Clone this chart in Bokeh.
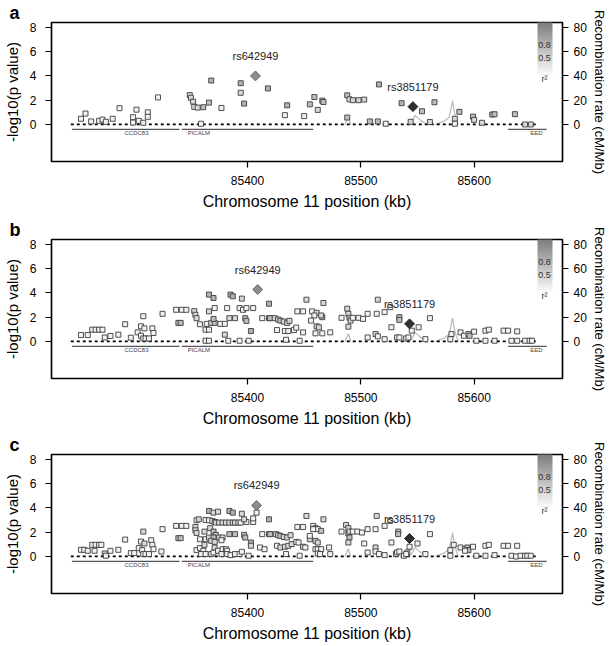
from bokeh.plotting import figure
from bokeh.models import (Range1d, LinearAxis, FixedTicker, Label, ColorBar,
                          LinearColorMapper, ColumnDataSource)
from bokeh.layouts import column
from bokeh.core.properties import value
from bokeh.embed import file_html
from bokeh.resources import INLINE

NAN = float("nan")

# ---------------- data ----------------
x_ticks = [85400, 85500, 85600]
y_ticks = [0, 2, 4, 6, 8]
recomb_ticks = [0, 20, 40, 60, 80]

pos_a = [85253, 85257, 85262, 85269, 85272, 85275, 85281, 85287, 85299, 85299,
         85302, 85304, 85308, 85312, 85312, 85321, 85349, 85350, 85352, 85353,
         85356, 85359, 85361, 85366, 85368, 85377, 85394, 85394, 85397, 85418,
         85433, 85435, 85450, 85455, 85459, 85462, 85466, 85467, 85488, 85490,
         85493, 85498, 85503, 85488, 85516, 85508, 85515, 85522, 85536, 85544,
         85554, 85561, 85565, 85583, 85583, 85587, 85599, 85600, 85607, 85616,
         85618, 85636, 85645, 85650]
logp_a = [0.47, 0.90, 0.25, 0.30, 0.40, 0.22, 0.47, 1.34, 0.60, 0.16,
          1.22, 0.30, 0.14, 1.00, 0.63, 2.23, 2.42, 2.20, 1.88, 1.45,
          1.39, 0.06, 1.42, 1.80, 3.62, 1.36, 3.40, 2.61, 1.72, 2.97,
          0.77, 1.58, 0.69, 1.66, 2.26, 1.20, 1.96, 1.85, 2.40, 2.07,
          2.00, 2.00, 2.05, 0.57, 3.30, 0.25, 0.25, 0.06, 1.75, 0.22,
          1.09, 0.20, 1.83, 0.47, 0.06, 1.04, 0.65, 0.38, 0.14, 0.82,
          0.84, 0.85, 0.00, 0.00]
r2_a = [0.1, 0.1, 0.1, 0.1, 0.1, 0.1, 0.1, 0.1, 0.1, 0.1,
        0.1, 0.1, 0.1, 0.1, 0.1, 0.1, 0.3, 0.3, 0.3, 0.3,
        0.3, 0.1, 0.5, 0.5, 0.6, 0.1, 0.6, 0.3, 0.6, 0.6,
        0.1, 0.6, 0.1, 0.5, 0.5, 0.3, 0.5, 0.5, 0.5, 0.3,
        0.3, 0.3, 0.3, 0.5, 0.6, 0.5, 0.5, 0.1, 0.6, 0.3,
        0.5, 0.3, 0.5, 0.3, 0.1, 0.5, 0.5, 0.3, 0.3, 0.5,
        0.5, 0.5, 0.3, 0.3]

pos_b = [85253, 85259, 85263, 85266, 85269, 85272, 85274, 85279, 85286, 85292,
         85297, 85303, 85306, 85308, 85306, 85308, 85310, 85313, 85309, 85316,
         85317, 85325, 85337, 85342, 85346, 85339, 85341, 85353, 85354, 85355,
         85366, 85370, 85366, 85371, 85364, 85368, 85371, 85370, 85358, 85363,
         85366, 85376, 85380, 85382, 85384, 85389, 85385, 85387, 85395, 85393,
         85396, 85399, 85398, 85399, 85405, 85403, 85419, 85413, 85419, 85420,
         85424, 85427, 85429, 85432, 85435, 85437, 85426, 85433, 85436, 85441,
         85443, 85449, 85444, 85449, 85452, 85363, 85366, 85380, 85383, 85393,
         85401, 85434, 85446, 85457, 85461, 85459, 85466, 85465, 85456, 85467,
         85461, 85463, 85460, 85466, 85473, 85483, 85488, 85489, 85490, 85491,
         85489, 85493, 85498, 85502, 85506, 85514, 85521, 85515, 85526, 85534,
         85534, 85527, 85551, 85561, 85545, 85506, 85513, 85515, 85521, 85532,
         85534, 85540, 85542, 85557, 85580, 85579, 85588, 85591, 85595, 85596,
         85600, 85610, 85613, 85626, 85630, 85638, 85602, 85610, 85618, 85633,
         85638, 85645, 85649, 85651]
logp_b = [0.53, 0.53, 0.97, 0.97, 0.97, 0.97, 0.33, 0.45, 0.56, 1.42,
          0.31, 0.75, 1.25, 2.08, 0.47, 0.25, 0.25, 0.25, 1.08, 1.08,
          0.70, 2.28, 2.61, 2.61, 2.61, 1.53, 1.53, 2.50, 2.20, 1.92,
          3.86, 3.58, 2.48, 2.75, 1.45, 1.53, 1.53, 1.86, 1.42, 0.97,
          0.97, 1.45, 1.45, 2.75, 1.92, 1.92, 3.86, 3.72, 3.53, 2.75,
          2.61, 2.75, 1.92, 1.70, 2.75, 0.86, 3.11, 1.92, 1.92, 1.92,
          1.92, 1.81, 1.72, 1.64, 1.53, 1.70, 0.94, 0.86, 0.86, 0.94,
          1.14, 0.75, 2.48, 2.48, 3.44, 0.06, 0.06, 0.56, 0.06, 0.06,
          0.06, 0.14, 0.06, 2.48, 2.36, 2.14, 2.00, 2.14, 1.72, 3.17,
          1.25, 1.17, 0.67, 0.67, 0.75, 1.95, 2.70, 2.28, 1.95, 1.72,
          1.22, 1.95, 1.95, 1.86, 2.28, 2.28, 2.42, 3.44, 2.83, 2.00,
          1.78, 1.17, 1.17, 1.92, 0.89, 0.33, 0.61, 0.42, 0.19, 0.33,
          0.33, 0.25, 0.33, 0.19, 0.61, 0.19, 0.75, 0.47, 0.61, 0.47,
          0.81, 0.89, 0.97, 0.89, 0.89, 0.83, 0.06, 0.06, 0.06, 0.06,
          0.06, 0.06, 0.06, 0.06]
r2_b = [0.1, 0.1, 0.1, 0.1, 0.1, 0.1, 0.1, 0.1, 0.1, 0.1,
        0.1, 0.1, 0.1, 0.1, 0.1, 0.1, 0.1, 0.1, 0.1, 0.1,
        0.1, 0.1, 0.1, 0.1, 0.1, 0.5, 0.5, 0.3, 0.3, 0.3,
        0.6, 0.6, 0.3, 0.1, 0.1, 0.3, 0.5, 0.5, 0.1, 0.1,
        0.1, 0.1, 0.1, 0.1, 0.3, 0.3, 0.6, 0.6, 0.3, 0.1,
        0.1, 0.1, 0.5, 0.5, 0.1, 0.6, 0.6, 0.1, 0.5, 0.5,
        0.3, 0.3, 0.5, 0.3, 0.3, 0.3, 0.1, 0.1, 0.1, 0.1,
        0.1, 0.1, 0.1, 0.1, 0.3, 0.1, 0.1, 0.3, 0.1, 0.1,
        0.1, 0.1, 0.1, 0.1, 0.3, 0.1, 0.5, 0.3, 0.1, 0.3,
        0.3, 0.3, 0.1, 0.1, 0.1, 0.1, 0.3, 0.3, 0.5, 0.3,
        0.3, 0.1, 0.1, 0.1, 0.1, 0.1, 0.1, 0.3, 0.1, 0.5,
        0.5, 0.1, 0.1, 0.1, 0.1, 0.1, 0.3, 0.1, 0.1, 0.1,
        0.1, 0.1, 0.1, 0.1, 0.1, 0.1, 0.1, 0.1, 0.3, 0.5,
        0.1, 0.1, 0.1, 0.1, 0.1, 0.1, 0.1, 0.1, 0.1, 0.1,
        0.1, 0.1, 0.1, 0.1]

pos_c = [85253, 85256, 85259, 85265, 85263, 85266, 85269, 85271, 85274, 85279,
         85275, 85286, 85292, 85297, 85300, 85304, 85306, 85308, 85307, 85308,
         85310, 85313, 85309, 85315, 85316, 85317, 85325, 85324, 85337, 85342,
         85346, 85339, 85341, 85354, 85354, 85355, 85355, 85357, 85362, 85358,
         85363, 85366, 85355, 85358, 85361, 85362, 85359, 85363, 85368, 85370,
         85371, 85374, 85366, 85370, 85374, 85363, 85366, 85369, 85371, 85372,
         85375, 85378, 85381, 85384, 85387, 85389, 85392, 85367, 85370, 85372,
         85370, 85375, 85378, 85368, 85371, 85377, 85384, 85387, 85384, 85389,
         85395, 85394, 85399, 85397, 85405, 85405, 85397, 85398, 85403, 85403,
         85378, 85381, 85382, 85377, 85382, 85385, 85389, 85393, 85395, 85401,
         85408, 85419, 85413, 85419, 85420, 85425, 85427, 85429, 85432, 85435,
         85438, 85411, 85415, 85426, 85429, 85433, 85436, 85439, 85443, 85445,
         85444, 85449, 85452, 85449, 85434, 85446, 85455, 85458, 85460, 85462,
         85458, 85465, 85467, 85455, 85460, 85462, 85460, 85462, 85465, 85451,
         85472, 85462, 85464, 85473, 85483, 85487, 85489, 85489, 85490, 85490,
         85489, 85493, 85497, 85501, 85506, 85513, 85521, 85514, 85526, 85533,
         85533, 85527, 85503, 85550, 85561, 85543, 85506, 85513, 85513, 85516,
         85521, 85531, 85532, 85534, 85538, 85541, 85540, 85557, 85579, 85579,
         85582, 85588, 85592, 85594, 85595, 85599, 85592, 85610, 85613, 85626,
         85630, 85638, 85602, 85610, 85618, 85633, 85637, 85641, 85645, 85647,
         85650]
logp_c = [0.55, 0.55, 0.47, 0.47, 0.96, 0.96, 0.96, 0.96, 0.25, 0.47,
          0.06, 0.55, 1.39, 0.28, 0.28, 0.69, 1.23, 2.05, 0.52, 0.20,
          0.20, 0.20, 1.07, 1.34, 0.96, 0.60, 2.25, 0.41, 2.52, 2.52,
          2.52, 1.51, 1.51, 2.43, 2.16, 1.94, 2.98, 3.06, 2.05, 1.42,
          1.42, 1.56, 0.52, 0.69, 0.47, 0.96, 0.20, 0.20, 0.20, 0.33,
          0.74, 0.47, 3.75, 3.61, 3.69, 3.01, 2.98, 2.93, 2.84, 2.79,
          2.79, 2.79, 2.79, 2.79, 2.79, 2.79, 2.79, 2.33, 2.05, 1.78,
          1.56, 1.56, 1.56, 1.29, 1.20, 1.34, 3.75, 3.61, 1.84, 1.84,
          3.52, 2.79, 2.84, 3.06, 2.84, 3.14, 1.78, 1.56, 1.15, 0.88,
          0.60, 0.60, 0.47, 0.20, 0.20, 0.11, 0.20, 0.20, 0.39, 0.06,
          3.61, 3.06, 1.84, 1.84, 1.84, 1.84, 1.75, 1.70, 1.61, 1.56,
          1.75, 0.74, 0.60, 0.88, 0.74, 0.80, 0.88, 1.02, 1.20, 1.15,
          2.43, 2.43, 3.34, 0.80, 0.20, 0.06, 1.42, 2.52, 2.33, 2.25,
          2.25, 2.11, 3.06, 1.70, 1.29, 1.15, 0.60, 0.60, 0.60, 0.74,
          0.74, 0.25, 0.20, 0.20, 2.05, 2.60, 2.33, 1.89, 2.05, 1.56,
          1.15, 2.05, 2.05, 1.97, 2.25, 2.25, 2.52, 3.34, 2.93, 2.05,
          1.84, 1.15, 1.07, 1.07, 1.84, 0.80, 0.33, 0.74, 0.41, 0.20,
          0.11, 0.20, 0.33, 0.41, 0.06, 0.33, 0.20, 0.20, 0.52, 0.06,
          0.96, 0.74, 0.60, 0.74, 0.52, 0.80, 0.47, 0.88, 0.96, 0.88,
          0.88, 0.88, 0.06, 0.06, 0.11, 0.06, 0.00, 0.06, 0.06, 0.06,
          0.06]
r2_c = [0.1, 0.1, 0.1, 0.1, 0.1, 0.1, 0.1, 0.1, 0.3, 0.1,
        0.1, 0.1, 0.1, 0.1, 0.1, 0.1, 0.1, 0.3, 0.1, 0.1,
        0.1, 0.1, 0.3, 0.1, 0.1, 0.1, 0.1, 0.1, 0.1, 0.1,
        0.1, 0.5, 0.5, 0.3, 0.3, 0.3, 0.1, 0.3, 0.3, 0.1,
        0.1, 0.3, 0.1, 0.1, 0.1, 0.3, 0.1, 0.1, 0.1, 0.1,
        0.3, 0.1, 0.6, 0.3, 0.3, 0.1, 0.1, 0.1, 0.3, 0.3,
        0.3, 0.3, 0.3, 0.3, 0.3, 0.3, 0.3, 0.3, 0.5, 0.5,
        0.5, 0.3, 0.3, 0.3, 0.3, 0.1, 0.6, 0.6, 0.5, 0.5,
        0.3, 0.1, 0.1, 0.3, 0.1, 0.1, 0.5, 0.5, 0.6, 0.3,
        0.1, 0.1, 0.1, 0.1, 0.1, 0.1, 0.1, 0.1, 0.1, 0.1,
        0.1, 0.6, 0.1, 0.5, 0.5, 0.3, 0.3, 0.5, 0.3, 0.3,
        0.3, 0.1, 0.1, 0.1, 0.3, 0.3, 0.3, 0.3, 0.1, 0.1,
        0.1, 0.1, 0.3, 0.3, 0.1, 0.1, 0.3, 0.1, 0.3, 0.1,
        0.1, 0.5, 0.3, 0.1, 0.3, 0.3, 0.1, 0.1, 0.1, 0.1,
        0.1, 0.1, 0.1, 0.1, 0.1, 0.3, 0.3, 0.5, 0.3, 0.5,
        0.3, 0.1, 0.1, 0.1, 0.1, 0.1, 0.1, 0.3, 0.1, 0.5,
        0.5, 0.1, 0.1, 0.1, 0.1, 0.1, 0.1, 0.3, 0.1, 0.1,
        0.1, 0.1, 0.1, 0.1, 0.1, 0.1, 0.1, 0.1, 0.1, 0.1,
        0.1, 0.1, 0.1, 0.5, 0.5, 0.1, 0.1, 0.1, 0.1, 0.1,
        0.1, 0.1, 0.1, 0.1, 0.1, 0.1, 0.1, 0.1, 0.1, 0.1,
        0.1]

lead_names = ["rs642949", "rs3851179"]
lead_pos_a = [85407, 85546]
lead_logp_a = [4.00, 1.47]
lead_pos_b = [85409, 85543]
lead_logp_b = [4.28, 1.45]
lead_pos_c = [85408, 85543]
lead_logp_c = [4.20, 1.48]

# recombination rate (cM/Mb); NaN separates the visible stretches
recomb_pos = [85486, 85489, 85491, NAN,
              85543, 85546, 85548, 85552, 85558, NAN,
              85566, 85570, 85574, 85578, 85581, 85583, 85586]
recomb_rate = [0, 6.5, 0, NAN,
               0, 4, 7.5, 4, 0, NAN,
               0, 1.5, 3, 6, 19.5, 8, 0]

gene_names = ["CCDC83", "PICALM", "EED"]
gene_start = [85245, 85342, 85630]
gene_end = [85340, 85458, 85664]
gene_label_pos = [85302, 85357, 85655]

snp_extent = [85244, 85657]

legend_r2_labels = ["0.8", "0.5"]

# ---------------- styling ----------------
FONT = "Liberation Sans"
PALETTE = ["#%02x%02x%02x" % (v, v, v)
           for v in [int(round(255 - i * (255 - 125) / 255)) for i in range(256)]]


def style_axis(ax, label_size, tick_size, lab_standoff, title_standoff):
    ax.axis_line_color = "black"
    ax.axis_line_width = 1.2
    ax.major_tick_line_color = "black"
    ax.major_tick_line_width = 1.2
    ax.major_tick_in = 0
    ax.major_tick_out = 6
    ax.minor_tick_line_color = None
    ax.major_label_text_font = FONT
    ax.major_label_text_font_size = tick_size
    ax.major_label_text_color = "black"
    ax.major_label_standoff = lab_standoff
    ax.axis_label_text_font = FONT
    ax.axis_label_text_font_size = label_size
    ax.axis_label_text_font_style = "normal"
    ax.axis_label_text_color = "black"
    ax.axis_label_standoff = title_standoff


def make_panel(letter, pos, logp, r2, lead_pos, lead_logp, height, top, bottom):
    p = figure(width=609, height=height,
               x_range=Range1d(85227, 85678), y_range=Range1d(-3.05, 8.4),
               output_backend="svg", toolbar_location=None,
               min_border_left=49, min_border_right=44,
               min_border_top=top, min_border_bottom=bottom)
    p.extra_y_ranges = {"recomb": Range1d(-30.5, 84)}
    p.xgrid.visible = False
    p.ygrid.visible = False
    p.outline_line_color = "black"
    p.outline_line_width = 1.5
    p.background_fill_color = "white"
    p.border_fill_color = "white"

    # panel letter as left-aligned title
    p.title.text = letter
    p.title.align = "left"
    p.title.offset = -42
    p.title.standoff = 0
    p.title.text_font = FONT
    p.title.text_font_size = "18px"
    p.title.text_font_style = "bold"
    p.title.text_color = "black"

    p.xaxis.ticker = FixedTicker(ticks=x_ticks)
    p.xaxis.axis_label = "Chromosome 11 position (kb)"
    style_axis(p.xaxis[0], "16px", "12px", 8, 5)
    p.yaxis.ticker = FixedTicker(ticks=y_ticks)
    p.yaxis.axis_label = "-log10(p value)"
    style_axis(p.yaxis[0], "15px", "12px", 9, 6)

    rax = LinearAxis(y_range_name="recomb", ticker=FixedTicker(ticks=recomb_ticks),
                     axis_label="Recombination rate (cM/Mb)")
    style_axis(rax, "13px", "12px", 5, 2)
    p.add_layout(rax, "right")

    # recombination rate
    p.line(recomb_pos, recomb_rate, y_range_name="recomb",
           line_color="#bdbdbd", line_width=1.3)

    # genes
    p.segment(x0=gene_start, y0=[-0.4] * len(gene_start), x1=gene_end,
              y1=[-0.4] * len(gene_end), line_color="#555555", line_width=1.2)
    p.text(x=gene_label_pos, y=[-0.48] * len(gene_names), text=gene_names,
           text_font=value(FONT), text_font_size="6px", text_color="#444444",
           text_align="center", text_baseline="top")

    # dashed baseline
    p.line(snp_extent, [0, 0], line_color="black", line_width=1.8, line_dash="3 3")

    mapper = LinearColorMapper(palette=PALETTE, low=0, high=1)
    src = ColumnDataSource(dict(x=pos, y=logp, r2=r2))
    p.scatter("x", "y", source=src, marker="square", size=5,
              fill_color={"field": "r2", "transform": mapper},
              line_color="#3c3c3c", line_width=0.9)

    # lead SNPs
    p.scatter([lead_pos[0]], [lead_logp[0]], marker="square", angle=0.785398,
              size=7, fill_color="#8c8c8c", line_color="#666666", line_width=1)
    p.scatter([lead_pos[1]], [lead_logp[1]], marker="square", angle=0.785398,
              size=7, fill_color="#303030", line_color="#202020", line_width=1)
    p.text(x=lead_pos, y=lead_logp, text=lead_names, y_offset=-20,
           text_font=value(FONT), text_font_size="11px", text_color="#222222",
           text_align="center", text_baseline="middle")

    # r^2 legend bar
    cb = ColorBar(color_mapper=mapper, location=(486, 85), width=15, height=54,
                  padding=0, margin=0, ticker=FixedTicker(ticks=[]),
                  major_tick_line_color=None, minor_tick_line_color=None,
                  bar_line_color=None, background_fill_alpha=0,
                  border_line_color=None, major_label_text_font_size="0px")
    p.add_layout(cb, "center")
    for txt, yy in zip(legend_r2_labels + ["r\u00b2"], [117, 104, 83]):
        p.add_layout(Label(x=493, y=yy, x_units="screen", y_units="screen",
                           text=txt, text_font=FONT, text_font_size="9px",
                           text_color="#333333", text_align="center",
                           text_baseline="middle"))
    return p


for arr in [(pos_a, logp_a, r2_a), (pos_b, logp_b, r2_b), (pos_c, logp_c, r2_c)]:
    assert len(arr[0]) == len(arr[1]) == len(arr[2]), [len(a) for a in arr]

pa = make_panel("a", pos_a, logp_a, r2_a, lead_pos_a, lead_logp_a, 217, 21, 56)
pb = make_panel("b", pos_b, logp_b, r2_b, lead_pos_b, lead_logp_b, 215, 21, 54)
pc = make_panel("c", pos_c, logp_c, r2_c, lead_pos_c, lead_logp_c, 214, 21, 53)

layout = column(pa, pb, pc, spacing=0)
open("out.html", "w").write(file_html(layout, INLINE))
